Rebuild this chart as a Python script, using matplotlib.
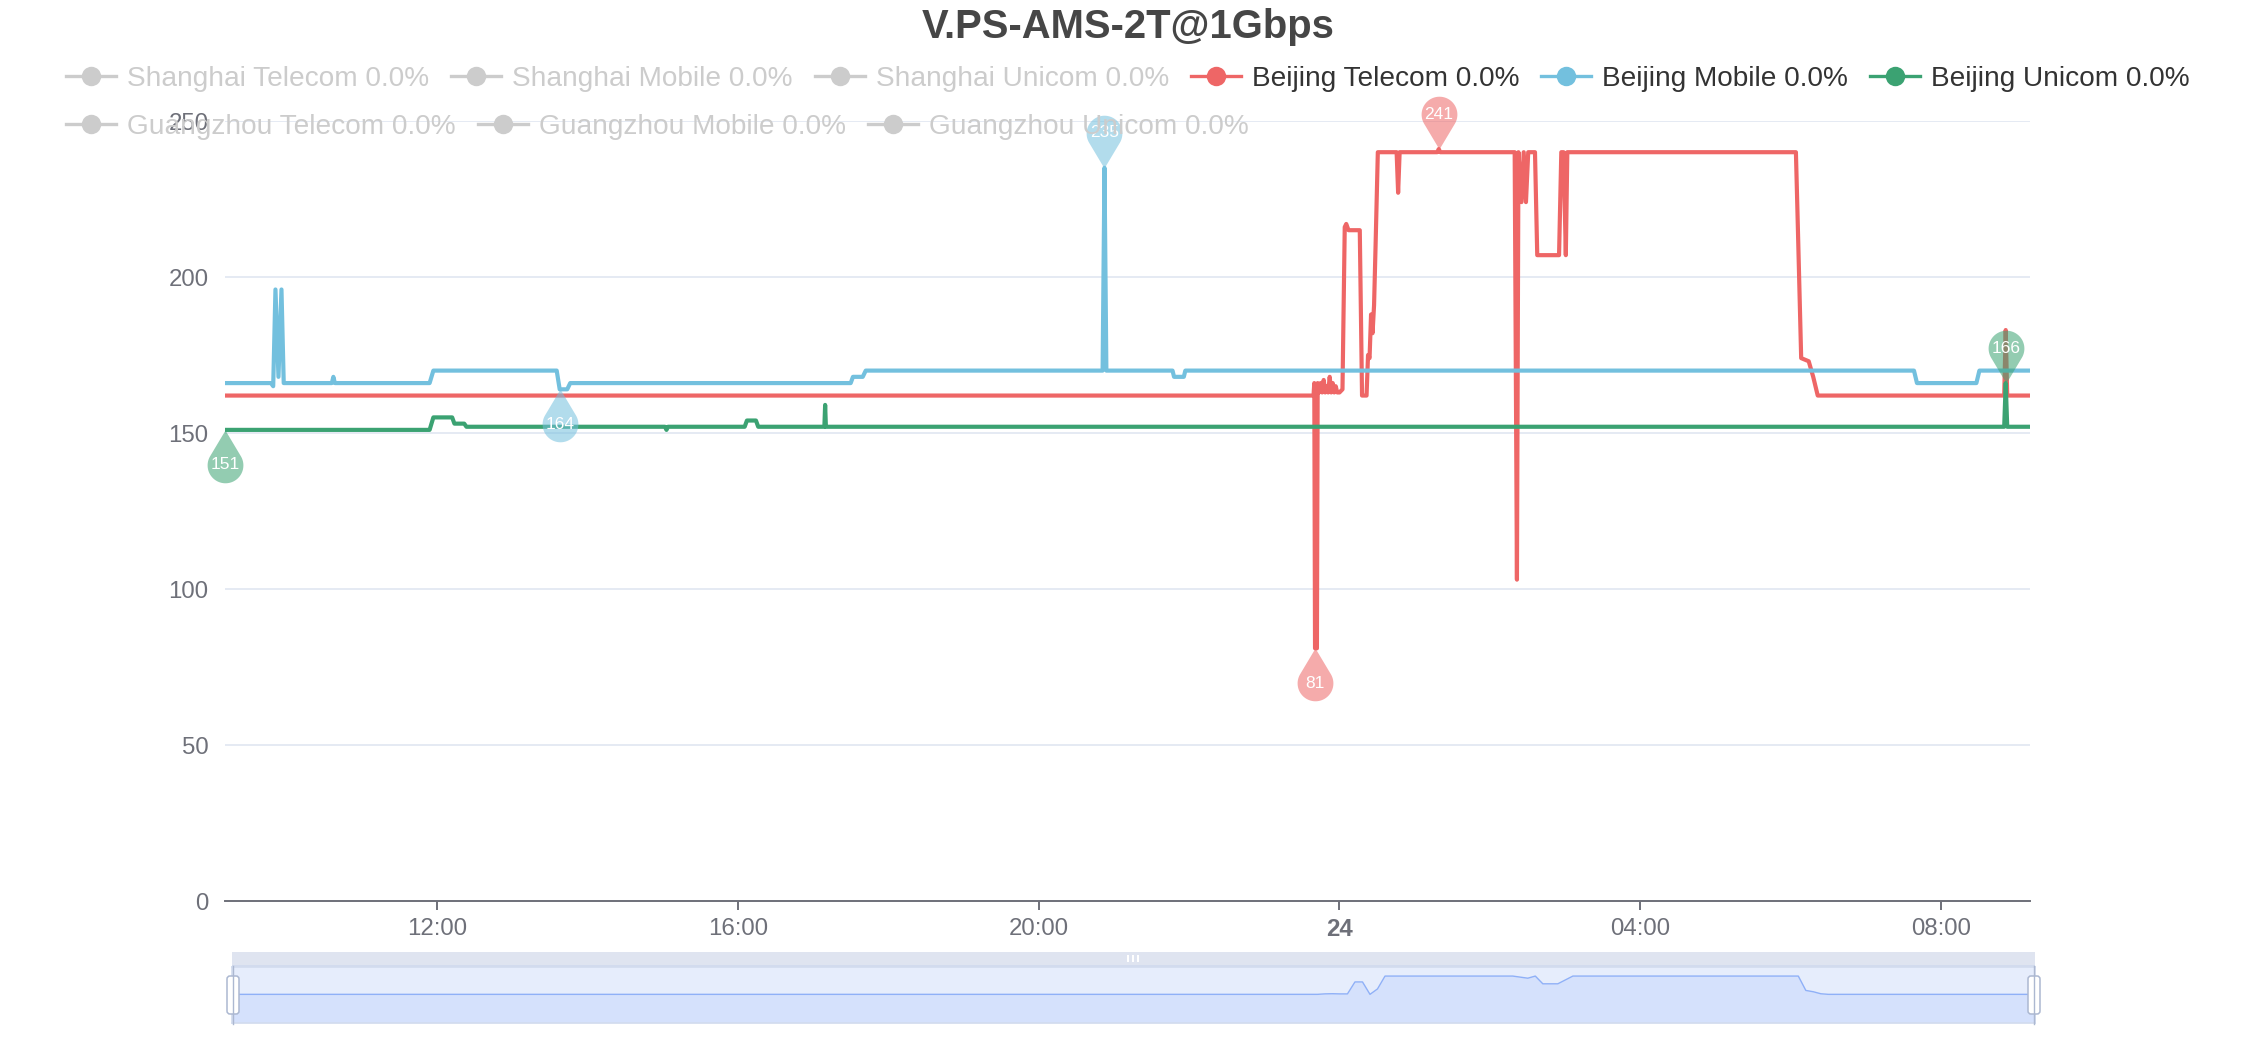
import numpy as np
import matplotlib.pyplot as plt
from matplotlib.path import Path
from matplotlib.patches import Rectangle, FancyBboxPatch
from matplotlib.lines import Line2D
from matplotlib.transforms import IdentityTransform

plt.rcParams['font.family'] = ['Liberation Sans', 'DejaVu Sans']

W, H, DPI = 2256, 1040, 100

TITLE = 'V.PS-AMS-2T@1Gbps'

legend_names = ['Shanghai Telecom', 'Shanghai Mobile', 'Shanghai Unicom',
                'Beijing Telecom', 'Beijing Mobile', 'Beijing Unicom',
                'Guangzhou Telecom', 'Guangzhou Mobile', 'Guangzhou Unicom']
legend_loss = [0.0, 0.0, 0.0, 0.0, 0.0, 0.0, 0.0, 0.0, 0.0]
legend_shown = [False, False, False, True, True, True, False, False, False]
palette = ['#5470c6', '#91cc75', '#fac858', '#ee6666', '#73c0de', '#3ba272',
           '#fc8452', '#9a60b4', '#ea7ccc']

# time in hours from midnight of day 23 (24 = midnight, 33.18 = 09:11 next day)
t_start, t_end = 9.183, 33.183
xtick_hours = [12, 16, 20, 24, 28, 32]
xtick_labels = ['12:00', '16:00', '20:00', '24', '04:00', '08:00']
ytick_vals = [0, 50, 100, 150, 200, 250]

# Beijing Telecom
bjt_t = [9.183, 23.655, 23.665, 23.675, 23.70, 23.71, 23.73, 23.75, 23.77, 23.79,
         23.81, 23.83, 23.85, 23.87, 23.89, 23.91, 23.93, 23.95, 23.97, 24.00,
         24.04, 24.07, 24.09, 24.12, 24.27, 24.30, 24.36, 24.38, 24.40, 24.42,
         24.44, 24.46, 24.48, 24.51, 24.76, 24.78, 24.80, 25.30, 25.32, 25.34,
         26.33, 26.36, 26.38, 26.42, 26.45, 26.48, 26.51, 26.60, 26.63, 26.92,
         26.95, 26.98, 27.01, 27.03, 30.07, 30.10, 30.14, 30.24, 30.30, 30.36,
         32.84, 32.86, 32.88, 33.183]
bjt_v = [162, 162, 166, 81, 81, 166, 163, 166, 163, 167,
         163, 165, 163, 168, 163, 166, 163, 165, 163, 163,
         164, 216, 217, 215, 215, 162, 162, 175, 174, 188,
         182, 191, 210, 240, 240, 227, 240, 240, 241, 240,
         240, 103, 240, 224, 240, 224, 240, 240, 207, 207,
         240, 240, 207, 240, 240, 212, 174, 173, 168, 162,
         162, 183, 162, 162]

# Beijing Mobile
bjm_t = [9.183, 9.79, 9.82, 9.85, 9.89, 9.93, 9.96, 10.60, 10.62, 10.64,
         11.90, 11.95, 13.59, 13.63, 13.73, 13.77, 17.50, 17.53, 17.66, 17.70,
         20.85, 20.875, 20.90, 21.78, 21.80, 21.93, 21.95, 31.64, 31.68, 32.47,
         32.51, 33.183]
bjm_v = [166, 166, 165, 196, 168, 196, 166, 166, 168, 166,
         166, 170, 170, 164, 164, 166, 166, 168, 168, 170,
         170, 235, 170, 170, 168, 168, 170, 170, 166, 166,
         170, 170]

# Beijing Unicom
bju_t = [9.183, 11.90, 11.95, 12.20, 12.23, 12.36, 12.39, 15.03, 15.05, 15.07,
         16.09, 16.12, 16.24, 16.27, 17.15, 17.16, 17.17, 32.84, 32.86, 32.88,
         33.183]
bju_v = [151, 151, 155, 155, 153, 153, 152, 152, 151, 152,
         152, 154, 154, 152, 152, 159, 152, 152, 166, 152,
         152]

series = [(bjt_t, bjt_v, palette[3]), (bjm_t, bjm_v, palette[4]), (bju_t, bju_v, palette[5])]

fig = plt.figure(figsize=(W / DPI, H / DPI), dpi=DPI)
renderer = fig.canvas.get_renderer()
PIX = IdentityTransform()


def fx(x):
    return x / W


def fy(y):
    return 1 - y / H


def px_rect(x0, y0, x1, y1, **kw):
    r = Rectangle((x0, H - y1), x1 - x0, y1 - y0, transform=PIX, **kw)
    fig.add_artist(r)
    return r


# main plot
ax = fig.add_axes([fx(225.3), fy(901), fx(2030) - fx(225.3), fy(121) - fy(901)])
ax.set_xlim(t_start, t_end)
ax.set_ylim(0, 250)
for s in ['top', 'right', 'left']:
    ax.spines[s].set_visible(False)
ax.spines['bottom'].set_color('#6e7079')
ax.spines['bottom'].set_linewidth(1.4)
ax.spines['bottom'].set_zorder(4)
ax.set_yticks(ytick_vals)
ax.set_xticks(xtick_hours)
ax.set_xticklabels(xtick_labels)
ax.tick_params(axis='x', length=6.5, width=1.4, color='#6e7079', labelsize=17.3,
               labelcolor='#6e7079', pad=5.5)
ax.tick_params(axis='y', length=0, labelsize=17.3, labelcolor='#6e7079', pad=12)
for lab in ax.get_xticklabels():
    if lab.get_text() == '24':
        lab.set_fontweight('bold')
ax.grid(axis='y', color='#e0e6f1', lw=1.2)
ax.set_axisbelow(True)

for t, v, c in series:
    ax.plot(t, v, color=c, lw=3.0, solid_joinstyle='round', zorder=3)


def pin_path(flip):
    r, c = 1.0, 1.95
    phi = np.arccos(r / c)
    ang = np.linspace(-np.pi / 2 + phi, 3 * np.pi / 2 - phi, 60)
    verts = np.vstack([[0, 0], np.column_stack([r * np.cos(ang), c + r * np.sin(ang)]), [0, 0]])
    if flip:
        verts[:, 1] *= -1
    codes = [Path.MOVETO] + [Path.LINETO] * (len(verts) - 2) + [Path.CLOSEPOLY]
    return Path(verts, codes)


PIN_MS = 76
pin_off = 1.95 / 2.95 * PIN_MS / 2
for t, v, c in series:
    t = np.array(t)
    v = np.array(v)
    for idx, flip in [(np.argmax(v), False), (np.argmin(v), True)]:
        ax.plot([t[idx]], [v[idx]], ls='none', marker=pin_path(flip), ms=PIN_MS,
                mfc=c, mec='none', alpha=0.55, zorder=5, clip_on=False)
        ax.annotate(f'{v[idx]:.0f}', (t[idx], v[idx]), xytext=(0, -pin_off if flip else pin_off),
                    textcoords='offset points', ha='center', va='center', color='white',
                    fontsize=12.5, zorder=6, annotation_clip=False)

# title
fig.text(0.5, fy(27), TITLE, ha='center', va='center', fontsize=28.8,
         fontweight='bold', color='#464646')

# legend (flow layout like echarts)
LEG_FS = 20.2
labels = [f'{n} {p:.1f}%' for n, p in zip(legend_names, legend_loss)]
widths = []
for lab in labels:
    tt = fig.text(0, 0, lab, fontsize=LEG_FS)
    widths.append(tt.get_window_extent(renderer).width)
    tt.remove()
icon_w, icon_gap, item_gap = 50, 11, 22
rows, cur, cur_w = [], [], 0
for i, w in enumerate(widths):
    iw = icon_w + icon_gap + w
    add = iw if not cur else cur_w + item_gap + iw
    if cur and add > W - 40:
        rows.append((cur, cur_w))
        cur, cur_w = [i], iw
    else:
        cur.append(i)
        cur_w = add
rows.append((cur, cur_w))
left = (W - max(r[1] for r in rows)) / 2
row_y = [76, 124]
for ri, (items, _) in enumerate(rows):
    x = left
    y = H - row_y[ri]
    for i in items:
        col = palette[i] if legend_shown[i] else '#cccccc'
        tcol = '#333333' if legend_shown[i] else '#cccccc'
        fig.add_artist(Line2D([x, x + icon_w], [y, y], transform=PIX, color=col, lw=2.4,
                              zorder=10))
        fig.add_artist(Line2D([x + icon_w / 2], [y], transform=PIX, color=col, marker='o',
                              ms=14, mec='none', zorder=10))
        fig.text((x + icon_w + icon_gap) / W, y / H, labels[i], fontsize=LEG_FS, color=tcol,
                 ha='left', va='center_baseline', zorder=10)
        x += icon_w + icon_gap + widths[i] + item_gap

# data zoom slider
sx0, sx1 = 231.6, 2035
px_rect(sx0, 952, sx1, 966.7, facecolor='#dfe4f0', edgecolor='none')
px_rect(sx0, 965.3, sx1, 966.7, facecolor='#d2dbee', edgecolor='none')
for gx in [1128, 1133, 1138]:
    px_rect(gx - 1, 955, gx + 1, 962, facecolor='white', edgecolor='none')

sax = fig.add_axes([fx(sx0), fy(1022.7), fx(sx1) - fx(sx0), fy(966.7) - fy(1022.7)])
sax.set_facecolor('#e6edfc')
for s in sax.spines.values():
    s.set_color('#d2dbee')
    s.set_linewidth(1.2)
sax.set_xticks([])
sax.set_yticks([])
sax.set_xlim(t_start, t_end)
sax.set_ylim(41, 280)
# thumbnail of the first visible series: per-bin median of the step data
fine_t = np.arange(t_start, t_end, 0.004)
fine_v = np.interp(fine_t, bjt_t, bjt_v)
edges = np.linspace(t_start, t_end, 241)
centers = (edges[:-1] + edges[1:]) / 2
thumb = np.array([np.median(fine_v[(fine_t >= a) & (fine_t < b)]) for a, b in zip(edges[:-1], edges[1:])])
centers = np.concatenate([[t_start], centers, [t_end]])
thumb = np.concatenate([[thumb[0]], thumb, [thumb[-1]]])
sax.fill_between(centers, thumb, 41, color='#d5e1fc', lw=0)
sax.plot(centers, thumb, color='#8fb0f7', lw=1.0)

for hx in [233, 2034]:
    fig.add_artist(Line2D([hx, hx], [H - 1024, H - 966], transform=PIX, color='#acb8d1', lw=1.0))
    hb = FancyBboxPatch((hx - 6, H - 1014), 12, 38, boxstyle='round,pad=0,rounding_size=3',
                        transform=PIX, facecolor='white', edgecolor='#acb8d1', lw=1.1)
    fig.add_artist(hb)

fig.savefig('out.png', dpi=DPI)
